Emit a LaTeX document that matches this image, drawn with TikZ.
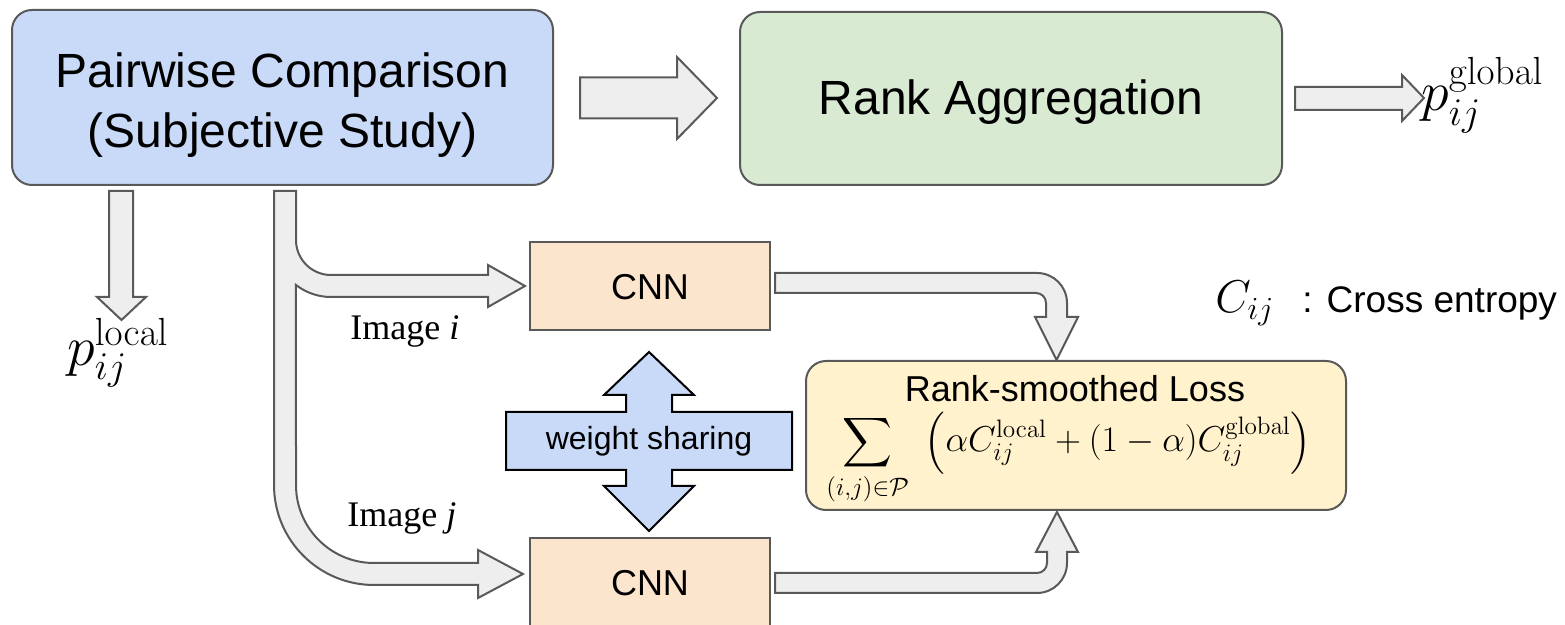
\RequirePackage{fix-cm}
\documentclass[tikz,border=0pt]{standalone}
\usepackage[no-math]{fontspec}
\newfontfamily\sansA{Liberation Sans}
\newfontfamily\serifA{Liberation Serif}
\usepackage{amsmath}
\definecolor{bgrey}{HTML}{595959}
\definecolor{agrey}{HTML}{EEEEEE}
\definecolor{cblue}{HTML}{C9DAF8}
\definecolor{cgreen}{HTML}{D9EAD3}
\definecolor{corange}{HTML}{FCE5CD}
\definecolor{cyellow}{HTML}{FFF2CC}
\tikzset{
  box/.style={draw=bgrey, line width=1pt, inner sep=0pt},
  rbox/.style={box, rounded corners=10pt},
  blk/.style={draw=bgrey, fill=agrey, line width=1pt, line join=miter},
  lbl/.style={inner sep=0pt, anchor=base},
  bigsans/.style={font=\sansA\fontsize{24}{28}\selectfont},
  midsans/.style={font=\sansA\fontsize{18}{22}\selectfont},
}
\begin{document}
\begin{tikzpicture}[x=0.5pt,y=-0.5pt]
\useasboundingbox (0,0) rectangle (1565,625);
\clip (0,0) rectangle (1565,625);
% boxes
\node[rbox, fill=cblue, minimum width=270.5pt, minimum height=87.5pt] (pc) at (282.5,97.5) {};
\node[lbl, bigsans] (pct1) at (282.5,88) {Pairwise Comparison};
\node[lbl, bigsans] (pct2) at (282.5,148) {(Subjective Study)};
\node[rbox, fill=cgreen, minimum width=271pt, minimum height=86.5pt] (ra) at (1011,98.5) {};
\node[lbl, bigsans] (rat) at (1011,115) {Rank Aggregation};
\node[box, fill=corange, minimum width=120pt, minimum height=44pt] (cnn1) at (650,286) {};
\node[lbl, midsans] (cnn1t) at (650,300) {CNN};
\node[box, fill=corange, minimum width=120pt, minimum height=45pt] (cnn2) at (650,583) {};
\node[lbl, midsans] (cnn2t) at (650,596) {CNN};
\node[rbox, fill=cyellow, minimum width=270pt, minimum height=74.5pt] (loss) at (1076,435.5) {};
\node[lbl, midsans] (losst) at (1075,402) {Rank-smoothed Loss};
\node[lbl, font=\fontsize{18}{22}\selectfont] (lossf) at (1069,452) {$\displaystyle\sum_{(i,j)\in\mathcal{P}}\;\left(\alpha C_{ij}^{\mathrm{local}}+(1-\alpha)C_{ij}^{\mathrm{global}}\right)$};
% block arrows
\draw[blk] (580,77.5) -- (677,77.5) -- (677,57) -- (717,98) -- (677,139) -- (677,118.5) -- (580,118.5) -- cycle;
\draw[blk] (1295,87) -- (1402,87) -- (1402,75) -- (1424,98) -- (1402,121) -- (1402,110) -- (1295,110) -- cycle;
\draw[blk] (109,191) -- (133,191) -- (133,297) -- (146,297) -- (121.5,320) -- (97,297) -- (109,297) -- cycle;
\draw[blk] (274,191) -- (296,191) -- (296,240) arc[start angle=180,end angle=90,radius=35] -- (488,275) -- (488,265) -- (525,286) -- (488,307) -- (488,297) -- (331,297) arc[start angle=90,end angle=127.9,radius=57] -- (296,485) arc[start angle=180,end angle=90,radius=78] -- (478,563) -- (478,550) -- (523,574) -- (478,598) -- (478,585) -- (374,585) arc[start angle=90,end angle=180,radius=100] -- cycle;
\draw[blk] (775,273) -- (1037,273) arc[start angle=270,end angle=360,radius=30] -- (1067,317) -- (1078,317) -- (1056.5,360) -- (1035,317) -- (1046,317) -- (1046,303) arc[start angle=0,end angle=-90,radius=10] -- (775,293) -- cycle;
\draw[blk] (775,573) -- (1037,573) arc[start angle=90,end angle=0,radius=10] -- (1047,552) -- (1036,552) -- (1057,512) -- (1078,552) -- (1067,552) -- (1067,563) arc[start angle=0,end angle=90,radius=30] -- (775,593) -- cycle;
% weight sharing
\draw[draw=black, fill=cblue, line width=1pt, line join=miter] (649,352) -- (694,395) -- (672,395) -- (672,412) -- (792,412) -- (792,470) -- (672,470) -- (672,486) -- (694,486) -- (649,531) -- (604,486) -- (626,486) -- (626,470) -- (506,470) -- (506,412) -- (626,412) -- (626,395) -- (604,395) -- cycle;
\node[lbl, font=\sansA\fontsize{16}{20}\selectfont] (ws) at (649,450) {weight sharing};
% labels
\node[inner sep=0pt, anchor=base west, font=\fontsize{28}{32}\selectfont] (pg) at (1421,111) {$p_{ij}^{\mathrm{global}}$};
\node[inner sep=0pt, anchor=base west, font=\fontsize{28}{32}\selectfont] (pl) at (67,366) {$p_{ij}^{\mathrm{local}}$};
\node[inner sep=0pt, anchor=base west, font=\serifA\fontsize{18}{22}\selectfont] (imi) at (350,340) {Image \textit{i}};
\node[inner sep=0pt, anchor=base west, font=\serifA\fontsize{18}{22}\selectfont] (imj) at (347,527) {Image \textit{j}};
\node[inner sep=0pt, anchor=base west, font=\fontsize{23}{27}\selectfont] (cij) at (1215,313) {$C_{ij}$};
\node[inner sep=0pt, anchor=base west, font=\sansA\fontsize{18.5}{22}\selectfont] (ce) at (1302,313) {:\hspace{7pt}Cross entropy};
\end{tikzpicture}
\end{document}
